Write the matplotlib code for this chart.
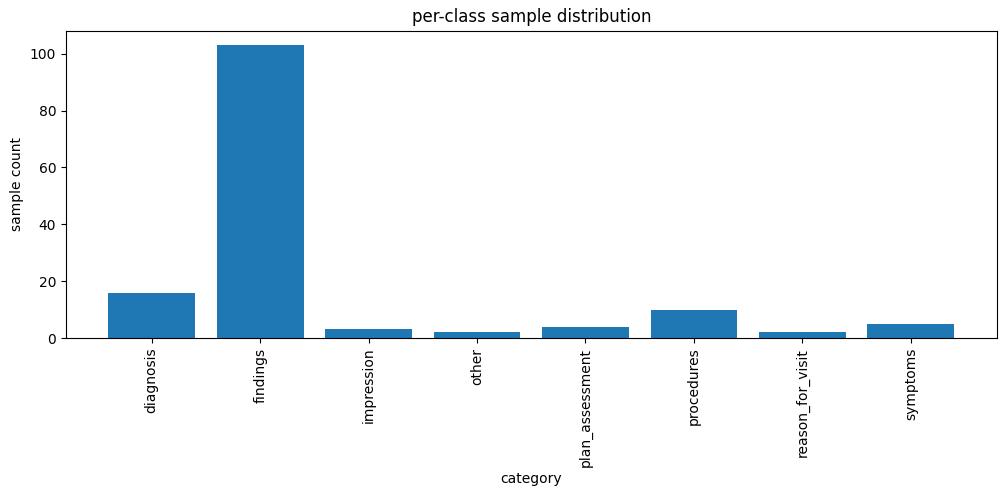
import matplotlib
matplotlib.use("Agg")
import matplotlib.pyplot as plt

categories = ["diagnosis", "findings", "impression", "other",
              "plan_assessment", "procedures", "reason_for_visit", "symptoms"]
counts = [16, 103, 3, 2, 4, 10, 2, 5]

fig, ax = plt.subplots(figsize=(10.05, 4.96), dpi=100)
fig.subplots_adjust(left=66/1005, right=996.5/1005, top=1-30.5/496, bottom=1-338/496)

ax.bar(categories, counts, color="#1f77b4")
ax.set_title("per-class sample distribution")
ax.set_xlabel("category")
ax.set_ylabel("sample count")
plt.setp(ax.get_xticklabels(), rotation=90)

fig.savefig("out.png", dpi=100)
